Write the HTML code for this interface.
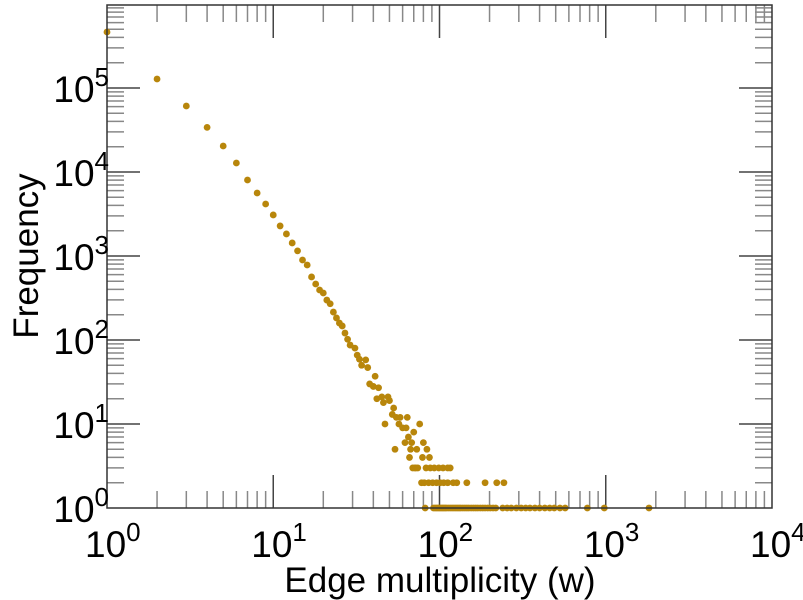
<!DOCTYPE html>
<html><head><meta charset="utf-8"><style>
html,body{margin:0;padding:0;background:#fff}
svg{display:block;font-family:"Liberation Sans",sans-serif}
</style></head><body>
<svg id="chart" width="803" height="600" viewBox="0 0 803 600" xmlns="http://www.w3.org/2000/svg">
<g id="ticks"></g>
<g id="points"></g>
<rect x="107" y="5" width="665" height="503" fill="none" stroke="#333" stroke-width="1.5"/>
<g id="labels"></g>
<text x="440" y="592" font-size="35" text-anchor="middle" fill="#000">Edge multiplicity (w)</text>
<text transform="translate(38,256) rotate(-90)" font-size="35" text-anchor="middle" fill="#000">Frequency</text>
</svg>
<script>
const weights = [1,2,3,4,5,6,7,8,9,10,11,12,13,14,15,16,17,18,19,20,21,22,23,24,25,26,27,28,29,31,32,33,34,36,37,38,40,41,42,43,45,46,47,49,50,52,53,55,58,64,57,60,63,76,70,65,68,62,80,54,67,73,84,66,79,87,69,71,72,74,83,88,93,99,105,112,116,78,81,86,91,96,101,106,112,121,127,146,188,221,244];
const freqs = [464000,128000,61000,34000,20400,12800,8030,5620,4160,3080,2280,1830,1430,1150,896,781,563,464,394,363,299,270,215,183,159,147,121,102,87,80,66,59,50,58,47,30,28,37,20,27,21,18,10,21,19,13,15.5,12,12,12,10,9,9,10,8,7,6,6,6,5,5,5,5,4,4,4,3,3,3,3,3,3,3,3,3,3,3,2,2,2,2,2,2,2,2,2,2,2,2,2,2];
const onesW = [82,92,94,96,98,100,102,104,106,108,110,113,116,119,122,125,128,131,134,138,142,146,150,155,160,165,170,176,182,188,195,202,210,218,240,255,270,290,310,330,350,375,400,430,460,490,530,570,775,980,1820];
const xTickLabels = ["0","1","2","3","4"];
const yTickLabels = ["0","1","2","3","4","5"];

const NS="http://www.w3.org/2000/svg";
const L=107,R=772,T=5,B=508;
const xs=w=>L+(R-L)*Math.log10(w)/4;
const ys=f=>B-84*Math.log10(f);
function mk(tag,attrs,parent){const e=document.createElementNS(NS,tag);for(const k in attrs)e.setAttribute(k,attrs[k]);parent.appendChild(e);return e;}
const tg=document.getElementById('ticks');
for(let d=0;d<4;d++){for(let m=1;m<10;m++){const x=xs(m*Math.pow(10,d));const len=m===1?33:17;const c=m===1?"#444":"#888";
 if(m===1&&d===0)continue;
 const a=mk('line',{x1:x,x2:x,y1:B,y2:B-len,stroke:c,'stroke-width':1.5},tg);
 
 const b=mk('line',{x1:x,x2:x,y1:T,y2:T+len,stroke:c,'stroke-width':1.5},tg);
 }}
for(let d=0;d<6;d++){for(let m=1;m<10;m++){const f=m*Math.pow(10,d);const y=ys(f);if(y<T)continue;if(d===0&&m===1)continue;const len=m===1?33:17;const c=m===1?"#444":"#888";
 const a=mk('line',{x1:L,x2:L+len,y1:y,y2:y,stroke:c,'stroke-width':1.5},tg);
 
 const b=mk('line',{x1:R,x2:R-len,y1:y,y2:y,stroke:c,'stroke-width':1.5},tg);
 }}
const pg=document.getElementById('points');
function dot(w,f){const c=mk('circle',{cx:xs(w),cy:ys(f),r:3.4,fill:'#b8860b'},pg);
 }
weights.forEach((w,i)=>dot(w,freqs[i]));
onesW.forEach(w=>dot(w,1));
const lg=document.getElementById('labels');
xTickLabels.forEach((s,i)=>{const t=mk('text',{x:xs(Math.pow(10,i))-22,y:557,'font-size':37,'text-anchor':'start',fill:'#000'},lg);
 
 t.innerHTML='10<tspan font-size="26" dy="-16">'+s+'</tspan>';});
yTickLabels.forEach((s,i)=>{const t=mk('text',{x:109,y:ys(Math.pow(10,i))+14,'font-size':37,'text-anchor':'end',fill:'#000'},lg);
 
 t.innerHTML='10<tspan font-size="26" dy="-16">'+s+'</tspan>';});
</script>
</body></html>
